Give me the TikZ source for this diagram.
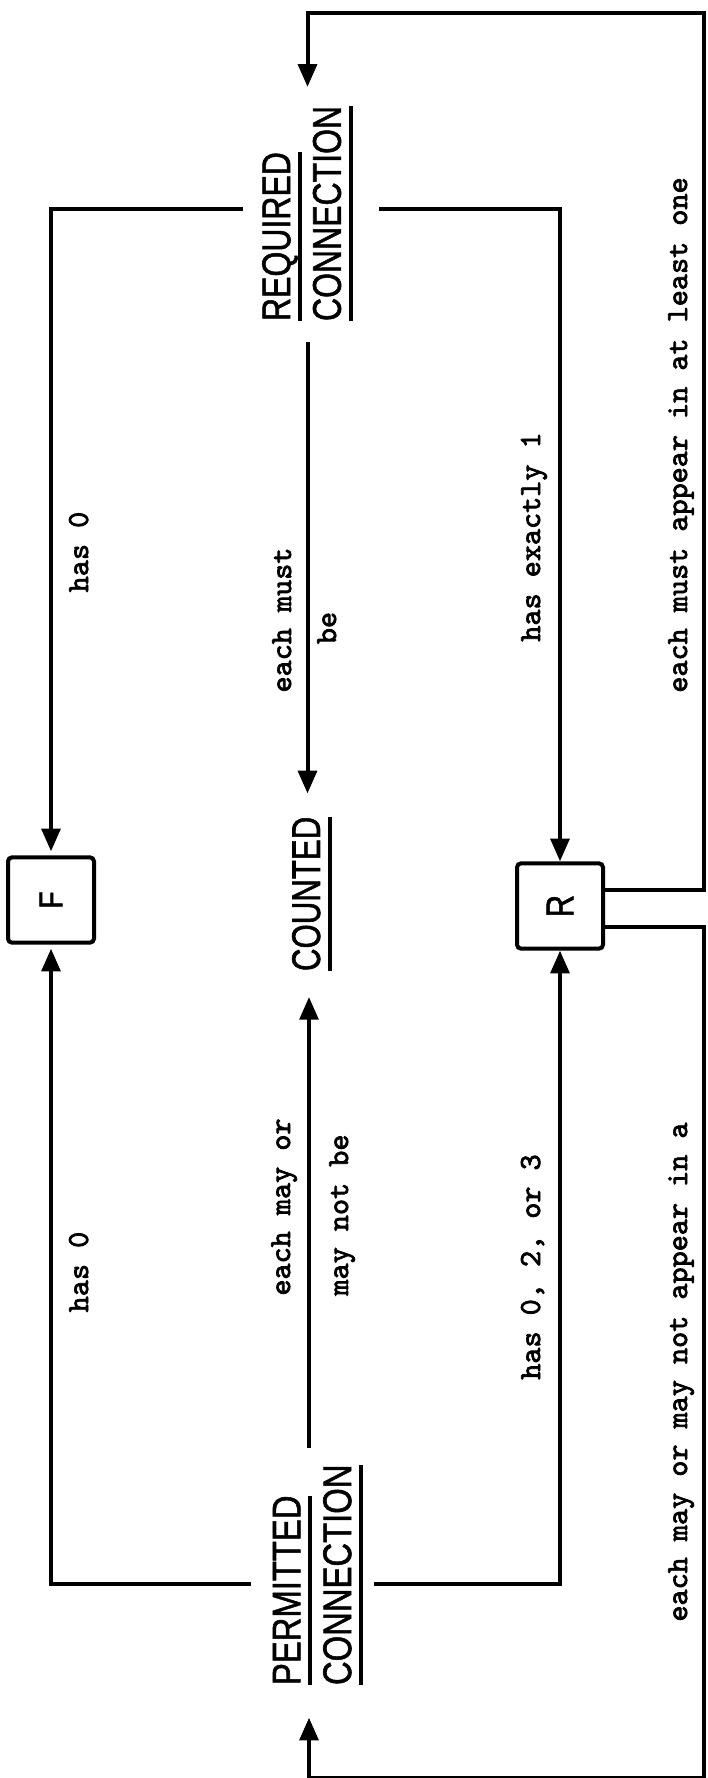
\documentclass[tikz,border=0pt]{standalone}
\usepackage{fontspec}
\newfontfamily\headfont{Liberation Sans}[FakeBold=1.5]
\newfontfamily\notefont{lmmono10-regular.otf}[FakeBold=2.5]
\usepackage{graphicx}
\usetikzlibrary{arrows.meta,positioning,calc}

\newsavebox{\capbox}
\newcommand{\capline}[2][0.8]{\scalebox{#1}[1]{\sbox\capbox{#2}\rlap{\rule[-9pt]{\wd\capbox}{3pt}}\usebox\capbox}}

\begin{document}
\begin{tikzpicture}[>={Triangle[length=17pt,width=14pt]},x=0.75pt,y=-0.75pt,line width=3pt,
 box/.style={draw,rounded corners=3pt,minimum width=64.5pt,minimum height=64pt,inner sep=0pt},
 heading/.style={rotate=90,inner sep=0pt,align=left,anchor=west,font=\headfont\fontsize{30}{38}\selectfont},
 note/.style={rotate=90,anchor=base,font=\notefont\fontsize{23}{26}\selectfont}]
\path[fill=white] (0,0) rectangle (707,1778);
\useasboundingbox (0,0) rectangle (707,1778);
\node[heading] (req) at (307.5,323) {\capline{REQUIRED}\\\capline{CONNECTION}};
\node[heading] (cnt) at (312,973) {\capline[0.78]{COUNTED}};
\node[heading] (perm) at (318,1687) {\capline[0.82]{PERMITTED}\\\capline[0.82]{CONNECTION}};
\node[box,font=\headfont\fontsize{25}{28}\selectfont] (F) at (51,900) {\rotatebox{90}{\scalebox{0.85}[1]{F}}};
\node[box,font=\headfont\fontsize{29}{32}\selectfont] (R) at (560,906) {\rotatebox{90}{\scalebox{0.8}[1]{R}}};
\coordinate (tr) at (704,13);
\coordinate (br) at (704,1778);
\coordinate (permtop) at ([xshift=-6.75pt]perm.east);
\coordinate (permbot) at ([xshift=-6.75pt]perm.west);
\draw[->,shorten <=12.75pt,shorten >=3pt] ([yshift=3pt]req.north) -| (F.north);
\draw[->,shorten <=18pt] ([yshift=3pt]req.south) -| (R.north);
\draw[->,shorten <=14pt,shorten >=16pt] (req.west) -- (req.west |- cnt.east);
\draw[->,shorten <=11pt,shorten >=18pt] (permtop) -- (permtop |- cnt.west);
\draw[->,shorten <=15pt,shorten >=3pt] ([yshift=-7pt]perm.north) -| (F.south);
\draw[->,shorten <=7pt] ([yshift=-7pt]perm.south) -| (R.south);
\draw[->,shorten >=12.75pt] ([yshift=12pt]R.east) -| (tr) -| (req.east);
\draw[->,shorten >=23pt] ([yshift=-15.75pt]R.east) -| (br) -| (permbot);
\node[note] (f1) at (88,552) {has 0};
\node[note] (c1) at (291,620) {each must};
\node[note] (c2) at (336,628) {be};
\node[note] (r1) at (540,537) {has exactly 1};
\node[note] (o1) at (687,435) {each must appear in at least one};
\node[note] (f2) at (88,1272) {has 0};
\node[note] (c3) at (290,1207) {each may or};
\node[note] (c4) at (348,1215) {may not be};
\node[note] (r2) at (540,1267) {has 0, 2, or 3};
\node[note] (o2) at (687,1372) {each may or may not appear in a};
\end{tikzpicture}
\end{document}
